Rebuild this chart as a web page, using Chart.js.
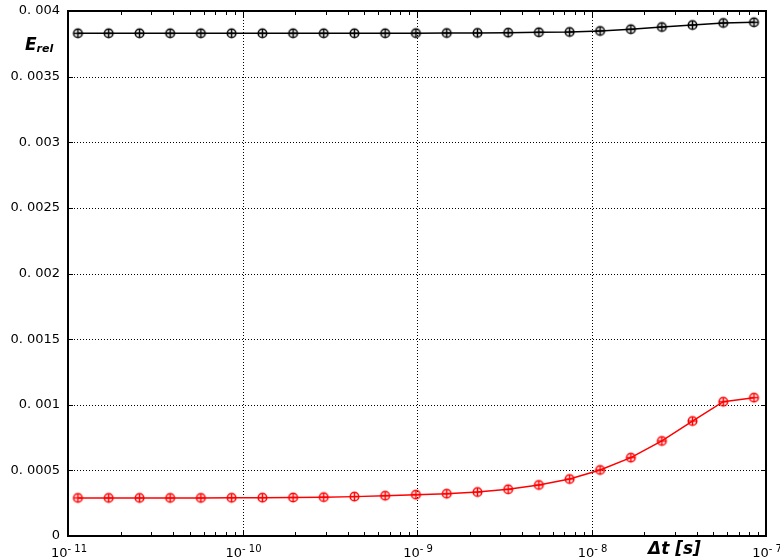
<!DOCTYPE html>
<html>
<head>
<meta charset="utf-8">
<script src="https://cdn.jsdelivr.net/npm/chart.js@4/dist/chart.umd.min.js"></script>
<style>
  html, body { margin: 0; padding: 0; background: #fff; }
  canvas { display: block; }
</style>
</head>
<body>
<canvas id="c" width="780" height="560"></canvas>
<script>
// Time step sizes [s]
const dt = [1.14e-11, 1.71e-11, 2.57e-11, 3.85e-11, 5.77e-11, 8.66e-11,
            1.30e-10, 1.95e-10, 2.92e-10, 4.38e-10, 6.57e-10, 9.86e-10,
            1.48e-9, 2.22e-9, 3.33e-9, 4.99e-9, 7.49e-9,
            1.12e-8, 1.68e-8, 2.53e-8, 3.79e-8, 5.69e-8, 8.53e-8];

// Relative error, upper (black) series
const errBlack = [0.003830, 0.003830, 0.003830, 0.003830, 0.003830, 0.003830,
                  0.003830, 0.003830, 0.003830, 0.003830, 0.003830, 0.003831,
                  0.003832, 0.003833, 0.003835, 0.003838, 0.003840,
                  0.003848, 0.003861, 0.003878, 0.003893, 0.003909, 0.003914];

// Relative error, lower (red) series
const errRed = [0.000290, 0.000290, 0.000290, 0.000290, 0.000290, 0.000291,
                0.000292, 0.000293, 0.000296, 0.000300, 0.000307, 0.000315,
                0.000322, 0.000335, 0.000356, 0.000389, 0.000434,
                0.000503, 0.000597, 0.000724, 0.000876, 0.001023, 0.001054];

// Axis ticks
const yTicks = [0, 0.0005, 0.001, 0.0015, 0.002, 0.0025, 0.003, 0.0035, 0.004];
const yTickLabels = ['0', '0. 0005', '0. 001', '0. 0015', '0. 002', '0. 0025', '0. 003', '0. 0035', '0. 004'];
const xDecades = [1e-11, 1e-10, 1e-9, 1e-8, 1e-7];
const xDecadeExp = ['- 11', '- 10', '- 9', '- 8', '- 7'];

// Circle-with-plus marker
function marker(color) {
  const s = 13, c = document.createElement('canvas');
  c.width = s; c.height = s;
  const g = c.getContext('2d');
  const m = s / 2, r = 4.3;
  g.strokeStyle = color; g.lineWidth = 1.5;
  g.beginPath(); g.arc(m, m, r, 0, Math.PI * 2); g.stroke();
  g.beginPath();
  g.moveTo(m - r, m); g.lineTo(m + r, m);
  g.moveTo(m, m - r); g.lineTo(m, m + r);
  g.stroke();
  return c;
}

const FONT = '"DejaVu Sans", sans-serif';

const frame = {
  id: 'frame',
  beforeDatasetsDraw(chart) {
    const { ctx, chartArea: a, scales: { x, y } } = chart;
    ctx.save();
    ctx.strokeStyle = '#000';
    ctx.lineWidth = 1;
    ctx.setLineDash([1, 2]);
    xDecades.forEach(v => {
      const px = Math.round(x.getPixelForValue(v)) + 0.5;
      if (px > a.left + 2 && px < a.right - 2) {
        ctx.beginPath(); ctx.moveTo(px, a.top); ctx.lineTo(px, a.bottom); ctx.stroke();
      }
    });
    yTicks.forEach(v => {
      const py = Math.round(y.getPixelForValue(v)) + 0.5;
      if (py > a.top + 2 && py < a.bottom - 2) {
        ctx.beginPath(); ctx.moveTo(a.left, py); ctx.lineTo(a.right, py); ctx.stroke();
      }
    });
    ctx.restore();
  },
  afterDraw(chart) {
    const { ctx, chartArea: a, scales: { x, y } } = chart;
    ctx.save();
    ctx.strokeStyle = '#000';
    ctx.setLineDash([]);
    // tick marks, inward on all four sides
    ctx.lineWidth = 1;
    for (let d = 0; d < xDecades.length; d++) {
      for (let k = 1; k <= 9; k++) {
        const v = xDecades[d] * k;
        if (v > 1e-7 * 1.0001) break;
        const px = Math.round(x.getPixelForValue(v)) + 0.5;
        const len = k === 1 ? 6 : 4;
        ctx.beginPath();
        ctx.moveTo(px, a.bottom); ctx.lineTo(px, a.bottom - len);
        ctx.moveTo(px, a.top); ctx.lineTo(px, a.top + len);
        ctx.stroke();
      }
    }
    yTicks.forEach(v => {
      const py = Math.round(y.getPixelForValue(v)) + 0.5;
      ctx.beginPath();
      ctx.moveTo(a.left, py); ctx.lineTo(a.left + 5, py);
      ctx.moveTo(a.right, py); ctx.lineTo(a.right - 5, py);
      ctx.stroke();
    });
    // frame
    ctx.lineWidth = 2;
    ctx.strokeRect(a.left, a.top, a.right - a.left, a.bottom - a.top);

    // y tick labels
    ctx.fillStyle = '#000';
    ctx.font = '13px ' + FONT;
    ctx.textAlign = 'right';
    ctx.textBaseline = 'middle';
    yTicks.forEach((v, i) => {
      ctx.fillText(yTickLabels[i], 60, y.getPixelForValue(v));
    });

    // x tick labels: 10 with superscript exponent
    ctx.textBaseline = 'alphabetic';
    xDecades.forEach((v, i) => {
      const px = x.getPixelForValue(v);
      ctx.font = '13px ' + FONT;
      const wb = ctx.measureText('10').width;
      ctx.font = '10px ' + FONT;
      const we = ctx.measureText(xDecadeExp[i]).width;
      const x0 = px - (wb + we) / 2 + 1;
      ctx.textAlign = 'left';
      ctx.font = '13px ' + FONT;
      ctx.fillText('10', x0, 557);
      ctx.font = '10px ' + FONT;
      ctx.fillText(xDecadeExp[i], x0 + wb, 552);
    });

    // axis titles
    ctx.textAlign = 'left';
    ctx.font = 'italic bold 17px ' + FONT;
    ctx.fillText('E', 25, 50);
    const we = ctx.measureText('E').width;
    ctx.font = 'italic bold 11px ' + FONT;
    ctx.fillText('rel', 25 + we, 52);
    ctx.font = 'italic bold 17px ' + FONT;
    ctx.fillText('\u0394t [s]', 648, 554);
    ctx.restore();
  }
};

new Chart(document.getElementById('c'), {
  type: 'line',
  data: {
    labels: dt,
    datasets: [
      {
        data: dt.map((t, i) => ({ x: t, y: errBlack[i] })),
        borderColor: '#000',
        borderWidth: 1.5,
        pointStyle: marker('#000'),
        tension: 0
      },
      {
        data: dt.map((t, i) => ({ x: t, y: errRed[i] })),
        borderColor: '#ff0000',
        borderWidth: 1.5,
        pointStyle: marker('#ff0000'),
        tension: 0
      }
    ]
  },
  options: {
    responsive: false,
    devicePixelRatio: 1,
    animation: false,
    layout: { padding: { left: 68, top: 11, right: 14, bottom: 24 } },
    plugins: { legend: { display: false }, tooltip: { enabled: false } },
    scales: {
      x: {
        type: 'logarithmic', min: 1e-11, max: 1e-7,
        ticks: { display: false },
        grid: { display: false, drawTicks: false },
        border: { display: false }
      },
      y: {
        type: 'linear', min: 0, max: 0.004,
        ticks: { display: false },
        grid: { display: false, drawTicks: false },
        border: { display: false }
      }
    }
  },
  plugins: [frame]
});
</script>
</body>
</html>
